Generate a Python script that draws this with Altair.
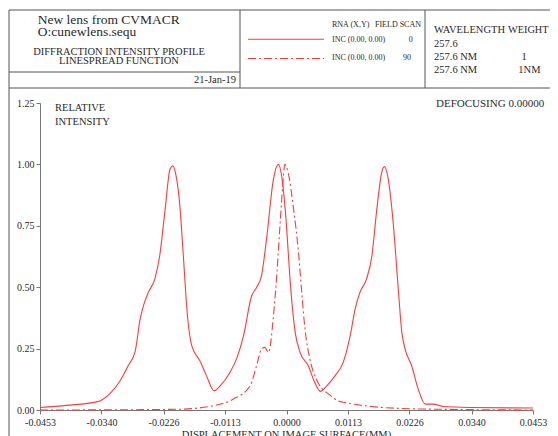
import altair as alt
import pandas as pd

# ---- data ----
SCAN0_X = [-0.0453, -0.0404, -0.0349, -0.0324, -0.0306, -0.0291, -0.0278, -0.0269, -0.0263,
           -0.0254, -0.0242, -0.0233, -0.0223, -0.0214, -0.0209, -0.0203, -0.0196, -0.0190,
           -0.0182, -0.0174, -0.0159, -0.0147, -0.0133, -0.0122, -0.0104, -0.0092, -0.0079,
           -0.0064, -0.0055, -0.0046, -0.0036, -0.0024, -0.0015, -0.0009, 0.0000, 0.0006,
           0.0016, 0.0025, 0.0040, 0.0052, 0.0062, 0.0074, 0.0089, 0.0104, 0.0117, 0.0126,
           0.0135, 0.0147, 0.0157, 0.0166, 0.0175, 0.0180, 0.0187, 0.0196, 0.0205, 0.0212,
           0.0218, 0.0230, 0.0242, 0.0255, 0.0270, 0.0288, 0.0337, 0.0453]
SCAN0_Y = [0.010, 0.019, 0.033, 0.068, 0.118, 0.180, 0.240, 0.370, 0.424,
           0.479, 0.533, 0.628, 0.818, 0.981, 0.994, 0.954, 0.832, 0.642,
           0.383, 0.261, 0.200, 0.139, 0.078, 0.098, 0.153, 0.207, 0.302,
           0.465, 0.499, 0.546, 0.709, 0.940, 1.000, 0.954, 0.750, 0.546,
           0.316, 0.234, 0.180, 0.112, 0.076, 0.098, 0.139, 0.193, 0.302, 0.410,
           0.479, 0.533, 0.628, 0.818, 0.967, 0.991, 0.940, 0.764, 0.505, 0.316,
           0.248, 0.180, 0.085, 0.024, 0.024, 0.014, 0.010, 0.008]

SCAN90_X = [-0.0453, -0.0300, -0.0200, -0.0135, -0.0099, -0.0067, -0.0055, -0.0046, -0.0040,
            -0.0033, -0.0024, -0.0018, -0.0012, -0.0007, -0.0003, 0.0003, 0.0013, 0.0022,
            0.0028, 0.0034, 0.0043, 0.0055, 0.0066, 0.0074, 0.0095, 0.0108, 0.0157, 0.0250,
            0.0453]
SCAN90_Y = [0.000, 0.001, 0.003, 0.017, 0.043, 0.098, 0.180, 0.248, 0.255,
            0.234, 0.383, 0.546, 0.750, 0.913, 1.000, 0.967, 0.818, 0.642,
            0.479, 0.329, 0.207, 0.125, 0.085, 0.071, 0.037, 0.030, 0.014, 0.004,
            0.000]

X_MAJOR = [-0.0453, -0.0340, -0.0226, -0.0113, 0.0, 0.0113, 0.0226, 0.0340, 0.0453]
X_LABELS = ["-0.0453", "-0.0340", "-0.0226", "-0.0113", "0.0000", "0.0113", "0.0226", "0.0340", "0.0453"]
Y_TICKS = [0.0, 0.125, 0.25, 0.375, 0.5, 0.625, 0.75, 0.875, 1.0, 1.125, 1.25]

X_ALL = sorted(X_MAJOR + [(a + b) / 2 for a, b in zip(X_MAJOR[:-1], X_MAJOR[1:])])

RED = "#ff3a3a"
INK = "#2a2a2a"
FRAME = "#555555"
FONT = "Liberation Serif"

df0 = pd.DataFrame({"x": SCAN0_X, "y": SCAN0_Y})
df90 = pd.DataFrame({"x": SCAN90_X, "y": SCAN90_Y})

x_label_expr = ("[" + ",".join('"%s"' % s for s in X_LABELS) + "][indexof(["
                + ",".join(repr(v) for v in X_MAJOR) + "], datum.value)] || ''")

xenc = alt.X("x:Q", scale=alt.Scale(domain=[-0.0453, 0.0453], nice=False, zero=False),
             axis=alt.Axis(values=X_ALL, labelExpr=x_label_expr, tickSize=4, grid=False,
                           labelFont=FONT, labelFontSize=10, labelColor=INK,
                           domainColor="#777777", tickColor="#777777", labelPadding=3,
                           labelFlush=False, labelOverlap=False, title=None))
yenc = alt.Y("y:Q", scale=alt.Scale(domain=[0, 1.25], nice=False),
             axis=alt.Axis(values=Y_TICKS,
                           labelExpr="datum.value % 0.25 == 0 ? format(datum.value, '.2f') : ''",
                           tickSize=4, grid=False, labelFont=FONT, labelFontSize=10,
                           labelColor=INK, domainColor="#777777", tickColor="#777777",
                           labelPadding=2, title=None, labelFlush=False))

line0 = alt.Chart(df0).mark_line(color=RED, strokeWidth=1.1, interpolate="monotone").encode(x=xenc, y=yenc)
line90 = alt.Chart(df90).mark_line(color=RED, strokeWidth=1.1, interpolate="monotone",
                                   strokeDash=[8, 3, 2, 3]).encode(x="x:Q", y="y:Q")

one = alt.Data(values=[{"k": 0}])


def txt(s, x, y, size, align="left", color=INK):
    return alt.Chart(one).mark_text(text=s, align=align, baseline="alphabetic", font=FONT,
                                    fontSize=size, color=color).encode(
        x=alt.value(x), y=alt.value(y))


def rule(x1, y1, x2, y2, color=FRAME, dash=None, width=1.0):
    kw = dict(color=color, strokeWidth=width)
    if dash:
        kw["strokeDash"] = dash
    return alt.Chart(one).mark_rule(**kw).encode(
        x=alt.value(x1), y=alt.value(y1), x2=alt.value(x2), y2=alt.value(y2))


deco = [
    rule(-31, -93, 540, -93),
    rule(-31, -15, 540, -15),
    rule(-31, -93, -31, 340),
    rule(200, -93, 200, -15),
    rule(385, -93, 385, -15),
    rule(-31, -31, 200, -31),
    rule(208, -63.7, 284, -63.7, color=RED, width=1.1),
    rule(208, -44.5, 284, -44.5, color=RED, dash=[8, 3, 2, 3], width=1.1),
    txt("New lens from CVMACR", -2.3, -78.7, 13.5),
    txt("O:cunewlens.sequ", -2.3, -67.5, 13.5),
    txt("DIFFRACTION INTENSITY PROFILE", 79, -48, 10.5, align="center"),
    txt("LINESPREAD FUNCTION", 79, -39, 10.5, align="center"),
    txt("21-Jan-19", 196, -20.3, 10.5, align="right"),
    txt("RNA (X,Y)", 292, -75.7, 8),
    txt("FIELD SCAN", 335, -75.7, 8),
    txt("INC (0.00, 0.00)", 292, -61.3, 8),
    txt("0", 370.7, -61.3, 8, align="center"),
    txt("INC (0.00, 0.00)", 292, -43, 8),
    txt("90", 367, -43, 8, align="center"),
    txt("WAVELENGTH", 394, -69.7, 10.5),
    txt("WEIGHT", 468, -69.7, 10.3),
    txt("257.6", 394, -56.3, 10.5),
    txt("257.6 NM", 394, -43, 10.5),
    txt("1", 484, -43, 10.5, align="center"),
    txt("257.6 NM", 394, -30.3, 10.5),
    txt("1NM", 478.3, -30.3, 10.5),
    txt("RELATIVE", 15, 7.7, 10.5),
    txt("INTENSITY", 15, 22, 10.5),
    txt("DEFOCUSING 0.00000", 396, 3.7, 11),
    txt("DISPLACEMENT ON IMAGE SURFACE(MM)", 246.5, 335, 10.5, align="center"),
]

chart = alt.layer(line0, line90, *deco).properties(
    width=493, height=307,
    autosize=alt.AutoSizeParams(type="none"),
    padding={"left": 32, "top": 95, "right": 17, "bottom": 26},
    background="white",
).configure_view(stroke=None)

chart.save("out.html", embed_options={"renderer": "svg", "actions": False})
